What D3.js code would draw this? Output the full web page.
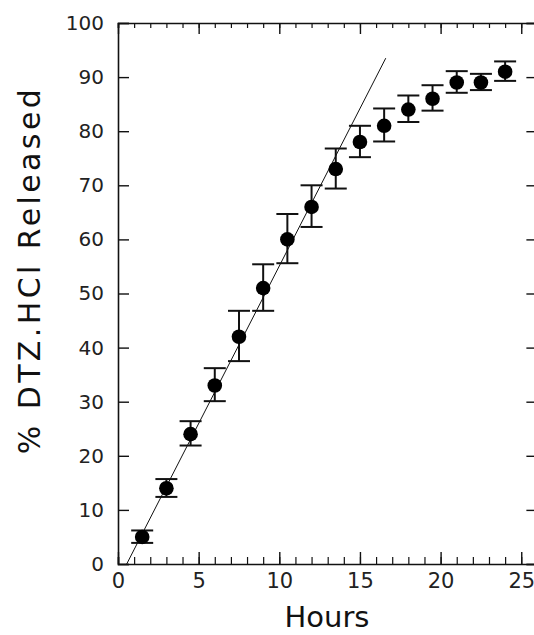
<!DOCTYPE html>
<html>
<head>
	<meta charset="utf-8">
	<title>DTZ.HCl release</title>
	<script src="https://cdn.jsdelivr.net/npm/d3@7"></script>
	<style>
		body { margin: 0; background: #fff; }
		svg { display: block; }
		.tick text { font-family: "DejaVu Sans", sans-serif; fill: #222; }
		.axis path, .axis line { stroke: #111; }
	</style>
</head>
<body>
	<div id="chart"></div>
	<script>
		// data
		var hours = [1.5, 3, 4.5, 6, 7.5, 9, 10.5, 12, 13.5, 15, 16.5, 18, 19.5, 21, 22.5, 24];
		var released = [5, 14, 24, 33, 42, 51, 60, 66, 73, 78, 81, 84, 86, 89, 89, 91];
		var errUp = [6.2, 15.7, 26.4, 36.2, 46.8, 55.4, 64.7, 70.0, 76.8, 81.0, 84.2, 86.6, 88.5, 91.1, 90.6, 92.9];
		var errDown = [3.9, 12.4, 21.9, 30.1, 37.5, 46.8, 55.6, 62.3, 69.4, 75.2, 78.1, 81.7, 83.8, 87.1, 87.6, 89.3];
		// linear fit line (start / end)
		var fitX = [0.54, 16.6];
		var fitY = [0, 93.5];
		var xTicks = [0, 5, 10, 15, 20, 25];
		var yTicks = [0, 10, 20, 30, 40, 50, 60, 70, 80, 90, 100];

		var w = 534, h = 635;
		var padLeft = 118, padTop = 23, padBottom = 564;

		var svg = d3.select("#chart").append("svg")
			.attr("width", w)
			.attr("height", h);

		var x = d3.scaleLinear().domain([0, 26]).range([padLeft, padLeft + 26 * 16.13]);
		var y = d3.scaleLinear().domain([0, 100]).range([padBottom, padTop]);

		var minorX = d3.range(0, 27, 1);

		// bottom axis: minor ticks then major + labels
		svg.append("g").attr("class", "axis")
			.attr("transform", "translate(0," + padBottom + ")")
			.call(d3.axisBottom(x).tickValues(minorX).tickSize(-7).tickFormat(""))
			.call(function(g){ g.select(".domain").attr("stroke-width", 1.6); g.selectAll(".tick line").attr("stroke-width", 1.2); });

		svg.append("g").attr("class", "axis")
			.attr("transform", "translate(0," + padBottom + ")")
			.call(d3.axisBottom(x).tickValues(xTicks).tickSize(-12).tickFormat(d3.format("d")))
			.call(function(g){
				g.select(".domain").remove();
				g.selectAll(".tick line").attr("stroke-width", 1.4);
				g.selectAll(".tick text").attr("font-size", 21).attr("dy", "0.71em").attr("y", 9);
			});

		// top axis
		svg.append("g").attr("class", "axis")
			.attr("transform", "translate(0," + padTop + ")")
			.call(d3.axisTop(x).tickValues(minorX).tickSize(-5).tickFormat(""))
			.call(function(g){ g.select(".domain").attr("stroke-width", 1.6); g.selectAll(".tick line").attr("stroke-width", 1.2); });

		svg.append("g").attr("class", "axis")
			.attr("transform", "translate(0," + padTop + ")")
			.call(d3.axisTop(x).tickValues(xTicks).tickSize(-11).tickFormat(""))
			.call(function(g){ g.select(".domain").remove(); g.selectAll(".tick line").attr("stroke-width", 1.4); });

		// left axis
		svg.append("g").attr("class", "axis")
			.attr("transform", "translate(" + padLeft + ",0)")
			.call(d3.axisLeft(y).tickValues(yTicks).tickSize(-11).tickFormat(d3.format("d")))
			.call(function(g){
				g.select(".domain").attr("stroke-width", 1.6);
				g.selectAll(".tick line").attr("stroke-width", 1.4);
				g.selectAll(".tick text").attr("font-size", 20).attr("x", -14);
			});

		// right axis (line falls just outside the picture)
		svg.append("g").attr("class", "axis")
			.attr("transform", "translate(" + x(26) + ",0)")
			.call(d3.axisRight(y).tickValues(yTicks).tickSize(-11).tickFormat(""))
			.call(function(g){ g.select(".domain").attr("stroke-width", 1.6); g.selectAll(".tick line").attr("stroke-width", 1.4); });

		// fit line
		svg.append("line")
			.attr("x1", x(fitX[0])).attr("y1", y(fitY[0]))
			.attr("x2", x(fitX[1])).attr("y2", y(fitY[1]))
			.attr("stroke", "#111")
			.attr("stroke-width", 1);

		var pts = hours.map(function(d, i){
			return { h: d, v: released[i], up: errUp[i], dn: errDown[i] };
		});

		// error bars
		var capW = 11;
		var eb = svg.append("g").attr("stroke", "#111").attr("stroke-width", 2);
		eb.selectAll(".stem").data(pts).enter().append("line")
			.attr("x1", function(d){ return x(d.h); })
			.attr("x2", function(d){ return x(d.h); })
			.attr("y1", function(d){ return y(d.up); })
			.attr("y2", function(d){ return y(d.dn); });
		eb.selectAll(".capTop").data(pts).enter().append("line")
			.attr("x1", function(d){ return x(d.h) - capW; })
			.attr("x2", function(d){ return x(d.h) + capW; })
			.attr("y1", function(d){ return y(d.up); })
			.attr("y2", function(d){ return y(d.up); });
		eb.selectAll(".capBot").data(pts).enter().append("line")
			.attr("x1", function(d){ return x(d.h) - capW; })
			.attr("x2", function(d){ return x(d.h) + capW; })
			.attr("y1", function(d){ return y(d.dn); })
			.attr("y2", function(d){ return y(d.dn); });

		// points
		svg.selectAll("circle").data(pts).enter().append("circle")
			.attr("cx", function(d){ return x(d.h); })
			.attr("cy", function(d){ return y(d.v); })
			.attr("r", 7.3)
			.attr("fill", "#000");

		// axis titles
		svg.append("text")
			.attr("x", 327).attr("y", 627)
			.attr("text-anchor", "middle")
			.attr("font-family", "DejaVu Sans, sans-serif")
			.attr("font-size", 29)
			.attr("fill", "#111")
			.text("Hours");

		svg.append("text")
			.attr("transform", "translate(40,270) rotate(-90)")
			.attr("text-anchor", "middle")
			.attr("font-family", "DejaVu Sans, sans-serif")
			.attr("font-size", 30)
			.attr("letter-spacing", 3.4)
			.attr("fill", "#111")
			.text("% DTZ.HCl Released");
	</script>
</body>
</html>
